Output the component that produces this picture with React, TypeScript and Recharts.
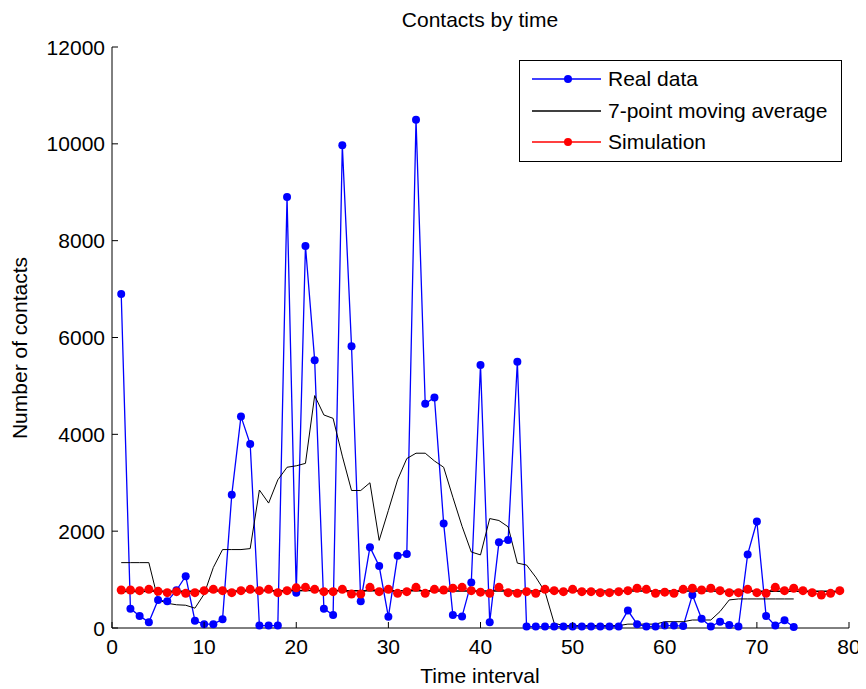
import React from 'react'
import { LineChart, Line, XAxis, YAxis, Legend } from 'recharts'

// time interval index starts at 1
const realData = [
  6900, 400, 250, 120, 580, 550, 780, 1070, 150, 80,
  80, 180, 2750, 4370, 3800, 50, 50, 50, 8900, 730,
  7890, 5530, 400, 270, 9970, 5820, 550, 1670, 1280, 230,
  1490, 1530, 10500, 4630, 4760, 2160, 270, 240, 940, 5430,
  120, 1770, 1820, 5500, 30, 30, 30, 30, 30, 30,
  30, 30, 30, 30, 30, 360, 80, 30, 30, 50,
  50, 40, 680, 190, 30, 130, 60, 30, 1520, 2200,
  250, 50, 160, 20,
]

const movingAvg = [
  1350, 1350, 1350, 1350, 580, 510, 480, 470, 410, 700,
  1250, 1620, 1620, 1620, 1640, 2850, 2580, 3060, 3320, 3350,
  3400, 4800, 4400, 4330, 3550, 2840, 2840, 3000, 1810, 2430,
  3060, 3500, 3610, 3610, 3450, 3320, 2700, 2100, 1570, 1510,
  2260, 2220, 2090, 1340, 1300, 1050, 750, 100, 50, 50,
  50, 50, 50, 50, 50, 80, 80, 80, 80, 130,
  130, 130, 165, 165, 165, 340, 580, 600, 600, 600,
  600, 600, 600, 600,
]

const simulation = [
  785, 785, 771, 799, 757, 730, 750, 716, 730, 771,
  799, 771, 730, 771, 799, 771, 799, 730, 771, 830,
  840, 799, 750, 750, 799, 702, 702, 840, 750, 799,
  716, 750, 840, 716, 799, 785, 820, 840, 771, 740,
  716, 840, 730, 716, 750, 716, 799, 771, 750, 799,
  750, 750, 730, 730, 750, 771, 820, 799, 716, 740,
  716, 799, 820, 785, 820, 771, 730, 730, 799, 730,
  716, 840, 771, 820, 771, 730, 681, 716, 771,
]

// smoothed simulation, drawn in black without a legend entry
const simulationAvg = [
  755, 755, 756, 757, 758, 758, 759, 760, 761, 762,
  763, 764, 765, 766, 767, 768, 770, 770, 771, 771,
  772, 772, 771, 771, 770, 770, 769, 769, 768, 768,
  768, 767, 767, 767, 766, 766, 766, 765, 765, 765,
  765, 764, 764, 764, 764, 764, 764, 764, 764, 764,
  764, 764, 764, 763, 763, 763, 763, 763, 763, 763,
  762, 762, 762, 762, 762, 761, 761, 761, 761, 760,
  760, 760, 759, 759, 758, 758, 757, 757, 756,
]

const xTicks = [0, 10, 20, 30, 40, 50, 60, 70, 80]
const yTicks = [0, 2000, 4000, 6000, 8000, 10000, 12000]

const legendItems = [
  { name: 'Real data', color: '#0000ff', marker: true },
  { name: '7-point moving average', color: '#000000', marker: false },
  { name: 'Simulation', color: '#ff0000', marker: true },
]

const toRows = (vals: number[]) => vals.map((v, i) => ({ t: i + 1, v }))

const FONT = '"Liberation Sans", Arial, Helvetica, sans-serif'
const TICK = 6

const BottomTick = ({ x, y, payload }: any) => (
  <g>
    <line x1={x} x2={x} y1={y} y2={y - TICK} stroke="#000" />
    <text x={x} y={y + 26} textAnchor="middle" fontSize={21} fill="#000" fontFamily={FONT}>
      {payload.value}
    </text>
  </g>
)

const TopTick = ({ x, y }: any) => (
  <line x1={x} x2={x} y1={y} y2={y + TICK} stroke="#000" />
)

const LeftTick = ({ x, y, payload }: any) => (
  <g>
    <line x1={x} x2={x + TICK} y1={y} y2={y} stroke="#000" />
    <text x={x - 7} y={y} dy="0.36em" textAnchor="end" fontSize={21} fill="#000" fontFamily={FONT}>
      {payload.value}
    </text>
  </g>
)

const RightTick = ({ x, y }: any) => (
  <line x1={x} x2={x - TICK} y1={y} y2={y} stroke="#000" />
)

const LegendBox = () => (
  <div style={{
    width: 321, height: 100, border: '1px solid #000', background: '#fff',
    position: 'relative', fontFamily: FONT, fontSize: 21, color: '#000',
  }}>
    {legendItems.map((it, i) => (
      <div key={it.name} style={{ position: 'absolute', left: 0, top: 3 + i * 31.5, height: 30, display: 'flex', alignItems: 'center' }}>
        <svg width={88} height={30} style={{ display: 'block' }}>
          <line x1={12} x2={81} y1={15} y2={15} stroke={it.color} strokeWidth={1.3} />
          {it.marker && <circle cx={48} cy={15} r={4} fill={it.color} />}
        </svg>
        <span style={{ whiteSpace: 'nowrap', lineHeight: '30px' }}>{it.name}</span>
      </div>
    ))}
  </div>
)

const labelStyle: React.CSSProperties = {
  position: 'absolute', fontSize: 21, lineHeight: '24px', whiteSpace: 'nowrap', color: '#000',
}

export default function App() {
  return (
    <div style={{ position: 'relative', width: 858, height: 681, fontFamily: FONT, background: '#fff' }}>
      <LineChart width={858} height={681} margin={{ top: 39, right: 17, bottom: 0, left: 0 }}
        style={{ position: 'absolute', left: 0, top: 0 }}>
        <XAxis xAxisId="b" type="number" dataKey="t" domain={[0, 80]} ticks={xTicks} interval={0}
          height={61} tickSize={0} tickMargin={0} tickLine={false} tick={<BottomTick />}
          axisLine={{ stroke: '#000' }} />
        <XAxis xAxisId="tp" orientation="top" type="number" dataKey="t" domain={[0, 80]} ticks={xTicks} interval={0}
          height={0} tickSize={0} tickMargin={0} tickLine={false} tick={<TopTick />}
          axisLine={{ stroke: '#000' }} />
        <YAxis yAxisId="l" type="number" domain={[0, 12000]} ticks={yTicks} interval={0}
          width={104} tickSize={0} tickMargin={0} tickLine={false} tick={<LeftTick />}
          axisLine={{ stroke: '#000' }} />
        <YAxis yAxisId="r" orientation="right" type="number" domain={[0, 12000]} ticks={yTicks} interval={0}
          width={0} tickSize={0} tickMargin={0} tickLine={false} tick={<RightTick />}
          axisLine={{ stroke: '#000' }} />
        <Line xAxisId="b" yAxisId="l" data={toRows(realData)} dataKey="v" name="Real data"
          stroke="#0000ff" strokeWidth={1.3} type="linear"
          dot={{ r: 4, fill: '#0000ff', stroke: 'none' }} activeDot={false} isAnimationActive={false} />
        <Line xAxisId="b" yAxisId="l" data={toRows(movingAvg)} dataKey="v" name="7-point moving average"
          stroke="#000000" strokeWidth={1} type="linear" dot={false} activeDot={false} isAnimationActive={false} />
        <Line xAxisId="b" yAxisId="l" data={toRows(simulation)} dataKey="v" name="Simulation"
          stroke="#ff0000" strokeWidth={1.3} type="linear"
          dot={{ r: 4.5, fill: '#ff0000', stroke: 'none' }} activeDot={false} isAnimationActive={false} />
        <Line xAxisId="b" yAxisId="l" data={toRows(simulationAvg)} dataKey="v" name="sim-avg" legendType="none"
          stroke="#000000" strokeWidth={1.5} type="linear" dot={false} activeDot={false} isAnimationActive={false} />
        <Legend layout="vertical" align="center" verticalAlign="middle" content={() => <LegendBox />}
          wrapperStyle={{ left: 511, top: 52, width: 323, height: 102 }} />
      </LineChart>
      <div style={{ ...labelStyle, left: 0, width: 944, top: 0, textAlign: 'center' }}>
        Contacts by time
      </div>
      <div style={{ ...labelStyle, left: 0, width: 944, top: 656, textAlign: 'center' }}>
        Time interval
      </div>
      <div style={{ ...labelStyle, left: 12, top: 340, transform: 'translate(-50%, -50%) rotate(-90deg)' }}>
        Number of contacts
      </div>
    </div>
  )
}
